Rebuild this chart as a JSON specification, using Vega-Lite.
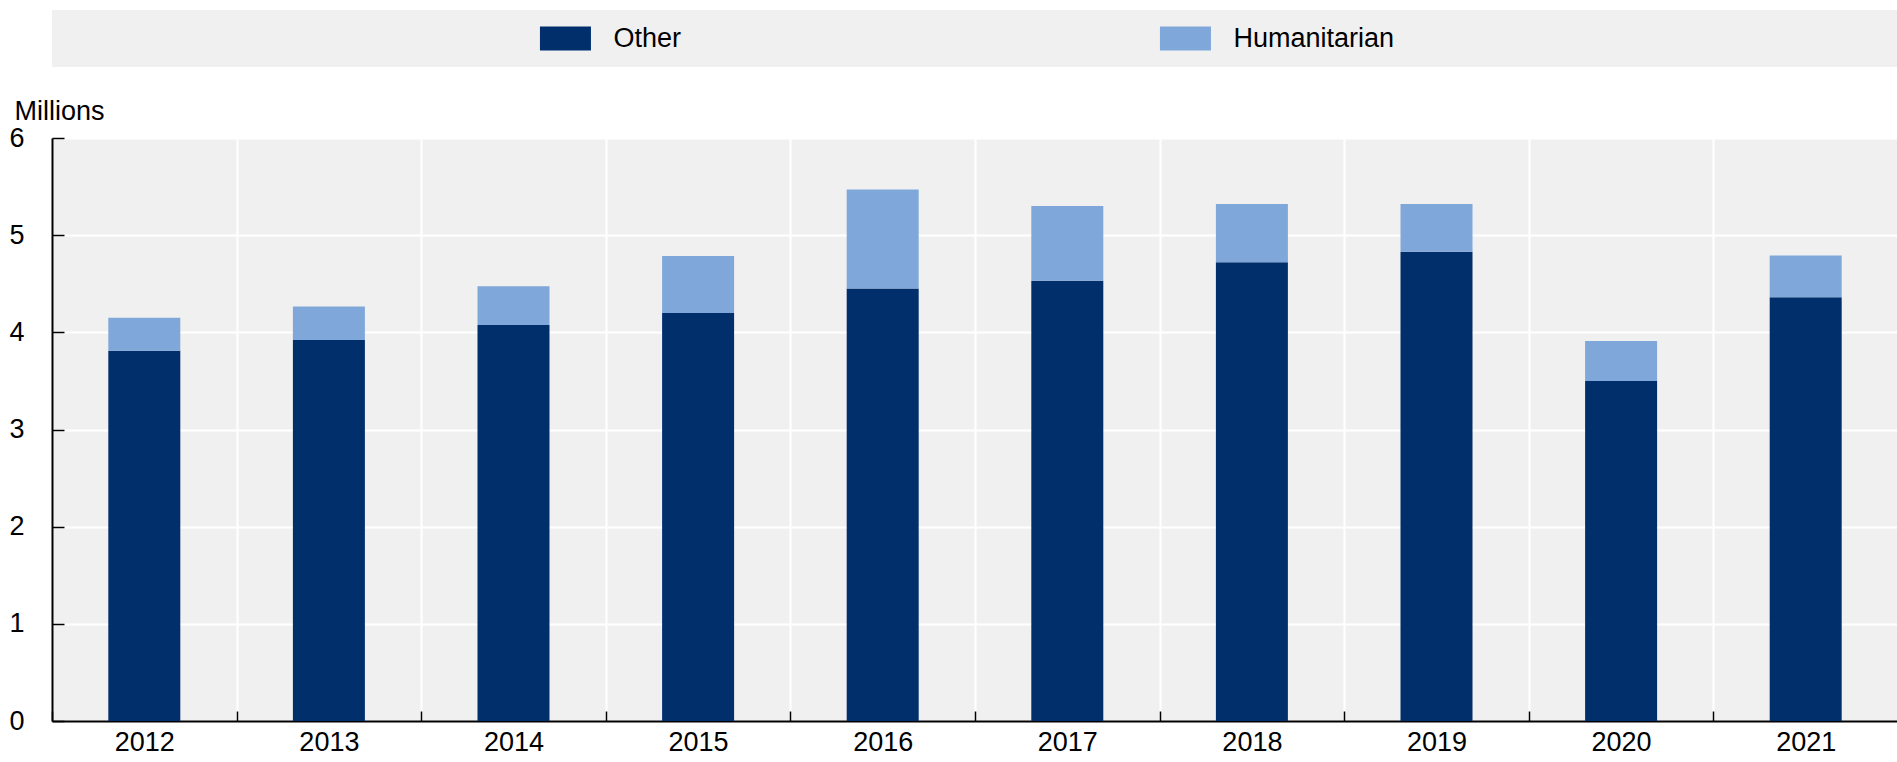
{
  "$schema": "https://vega.github.io/schema/vega-lite/v6.json",
  "background": "white",
  "padding": {"left": 8, "top": 10, "right": 0, "bottom": 0},
  "config": {
    "font": "Liberation Sans, Arial, sans-serif",
    "view": {"fill": "#F0F0F0", "stroke": null}
  },
  "spacing": 30,
  "resolve": {"scale": {"x": "independent", "color": "independent"}},
  "vconcat": [
    {
      "width": 1846,
      "height": 57,
      "data": {"values": [{"series": "Other"}, {"series": "Humanitarian"}]},
      "encoding": {
        "x": {
          "field": "series",
          "type": "nominal",
          "scale": {"type": "point", "domain": ["Other", "Humanitarian"], "padding": 0.9887, "align": 0.4188},
          "axis": null
        }
      },
      "layer": [
        {
          "mark": {"type": "point", "shape": "M-1,-0.47L1,-0.47L1,0.47L-1,0.47Z", "size": 2601, "filled": true, "opacity": 1, "strokeWidth": 0},
          "encoding": {
            "color": {
              "field": "series",
              "type": "nominal",
              "scale": {"domain": ["Other", "Humanitarian"], "range": ["#002F6C", "#7FA7D9"]},
              "legend": null
            }
          }
        },
        {
          "mark": {"type": "text", "align": "left", "baseline": "middle", "dx": 48, "fontSize": 27, "color": "#000000"},
          "encoding": {"text": {"field": "series"}}
        }
      ]
    },
    {
      "width": 1846,
      "height": 583,
      "data": {
        "values": [
          {"year": "2012", "series": "Other", "value": 3.81},
          {"year": "2012", "series": "Humanitarian", "value": 0.34},
          {"year": "2013", "series": "Other", "value": 3.92},
          {"year": "2013", "series": "Humanitarian", "value": 0.345},
          {"year": "2014", "series": "Other", "value": 4.075},
          {"year": "2014", "series": "Humanitarian", "value": 0.40},
          {"year": "2015", "series": "Other", "value": 4.20},
          {"year": "2015", "series": "Humanitarian", "value": 0.585},
          {"year": "2016", "series": "Other", "value": 4.45},
          {"year": "2016", "series": "Humanitarian", "value": 1.02},
          {"year": "2017", "series": "Other", "value": 4.53},
          {"year": "2017", "series": "Humanitarian", "value": 0.77},
          {"year": "2018", "series": "Other", "value": 4.72},
          {"year": "2018", "series": "Humanitarian", "value": 0.60},
          {"year": "2019", "series": "Other", "value": 4.83},
          {"year": "2019", "series": "Humanitarian", "value": 0.49},
          {"year": "2020", "series": "Other", "value": 3.50},
          {"year": "2020", "series": "Humanitarian", "value": 0.41},
          {"year": "2021", "series": "Other", "value": 4.36},
          {"year": "2021", "series": "Humanitarian", "value": 0.43}
        ]
      },
      "mark": {"type": "bar", "width": {"band": 0.39}},
      "encoding": {
        "x": {
          "field": "year",
          "type": "ordinal",
          "scale": {"paddingInner": 0, "paddingOuter": 0},
          "axis": {
            "title": null,
            "labelAngle": 0,
            "tickBand": "extent",
            "grid": true,
            "gridColor": "#FFFFFF",
            "gridWidth": 2,
            "domainColor": "#000000",
            "domainWidth": 2,
            "tickColor": "#000000",
            "tickWidth": 1.5,
            "tickSize": -10,
            "labelPadding": 18,
            "labelFontSize": 27,
            "labelColor": "#000000"
          }
        },
        "y": {
          "field": "value",
          "type": "quantitative",
          "stack": "zero",
          "scale": {"domain": [0, 6], "nice": false},
          "axis": {
            "values": [0, 1, 2, 3, 4, 5, 6],
            "title": "Millions",
            "titleAngle": 0,
            "titleAlign": "left",
            "titleBaseline": "alphabetic",
            "titleX": -38,
            "titleY": -19,
            "titleFontSize": 27,
            "titleFontWeight": "normal",
            "titleColor": "#000000",
            "grid": true,
            "gridColor": "#FFFFFF",
            "gridWidth": 2,
            "domainColor": "#000000",
            "domainWidth": 2,
            "tickColor": "#000000",
            "tickWidth": 1.5,
            "tickSize": -12,
            "labelPadding": 40,
            "labelFontSize": 27,
            "labelColor": "#000000"
          }
        },
        "color": {
          "field": "series",
          "type": "nominal",
          "sort": ["Other", "Humanitarian"],
          "scale": {"domain": ["Other", "Humanitarian"], "range": ["#002F6C", "#7FA7D9"]},
          "legend": null
        }
      }
    }
  ]
}
